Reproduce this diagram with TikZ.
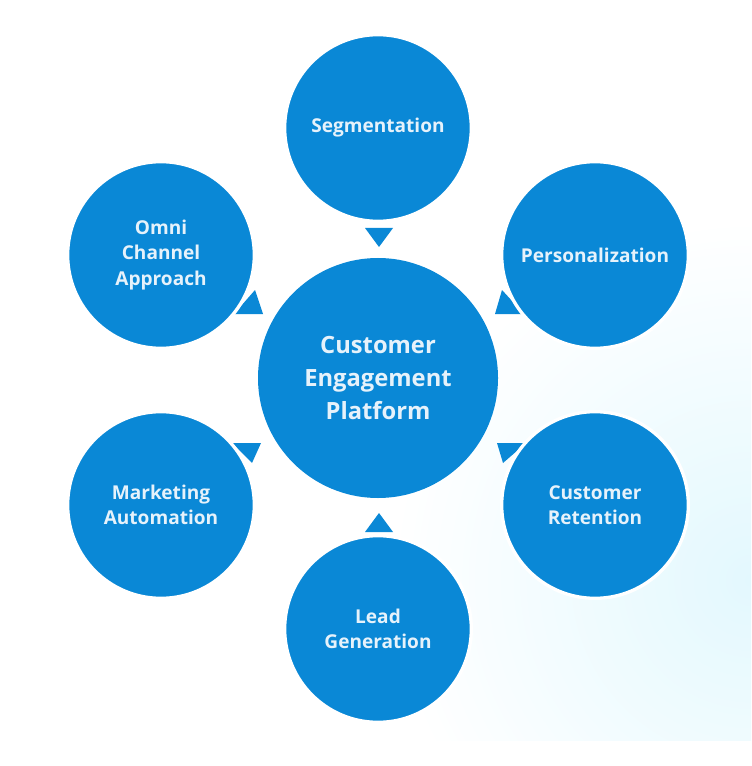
\documentclass[tikz,border=0pt]{standalone}
\usepackage{fontspec}
\setmainfont{Open Sans}
\usetikzlibrary{positioning}
\definecolor{cepblue}{HTML}{0A88D6}
\definecolor{ceptext}{HTML}{E6F2FB}
\definecolor{cepmist}{HTML}{E3F8FE}
\tikzset{
  hub/.style={circle, fill=cepblue, text=ceptext, minimum size=180pt, inner sep=0pt,
    align=center, font=\bfseries\fontsize{17.8}{24.4}\selectfont},
  spoke/.style={circle, fill=cepblue, draw=white, line width=2.5pt, text=ceptext,
    minimum size=140pt, inner sep=0pt, align=center,
    font=\bfseries\fontsize{14.3}{19.2}\selectfont},
  pointer/.style={fill=cepblue}
}
\begin{document}
\begin{tikzpicture}[x=0.75pt,y=-0.75pt]
  \useasboundingbox (0,0) rectangle (751,766);
  % faint mist in the lower right corner
  \begin{scope}
    \clip (0,0) rectangle (751,740);
    \shade[inner color=cepmist, outer color=white] (751,580) circle (360);
  \end{scope}
  % small pointers in the gaps
  \fill[pointer] (365,228) -- (393,228) -- (379,247) -- cycle;
  \fill[pointer] (365,532) -- (393,532) -- (379,513) -- cycle;
  \fill[pointer] (234,314) -- (263,314) -- (255,290) -- cycle;
  \fill[pointer] (495,314) -- (524,314) -- (502,290) -- cycle;
  \fill[pointer] (232,443) -- (261,443) -- (252,463) -- cycle;
  \fill[pointer] (497,443) -- (526,443) -- (503,463) -- cycle;
  % hub
  \node[hub] (cep) at (378,378) {Customer\\Engagement\\Platform};
  % outer circles
  \node[spoke] (seg)  at (378,128) {Segmentation};
  \node[spoke] (pers) at (595,255) {Personalization};
  \node[spoke] (ret)  at (595,505) {Customer\\Retention};
  \node[spoke] (lead) at (378,629) {Lead\\Generation};
  \node[spoke] (mark) at (161,505) {Marketing\\Automation};
  \node[spoke] (omni) at (161,255) {Omni\\Channel\\Approach};
\end{tikzpicture}
\end{document}
